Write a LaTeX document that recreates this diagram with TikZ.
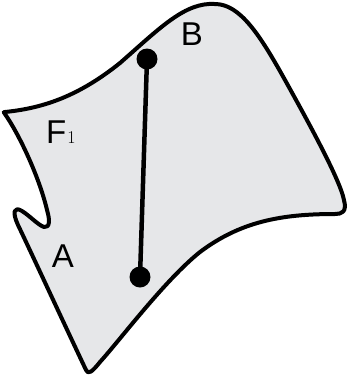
\documentclass[tikz,border=0pt]{standalone}
\usepackage{fontspec}
\newfontfamily\labelfont{Liberation Sans}
\definecolor{facegray}{RGB}{230,231,233}
\begin{document}
\begin{tikzpicture}[x=1pt, y=-1pt,
    face/.style={line width=4pt, line join=round, fill=facegray},
    pt/.style={circle, fill=black, inner sep=0pt, minimum size=21pt},
    lbl/.style={font=\labelfont\fontsize{33pt}{36pt}\selectfont, inner sep=0pt}]
    \useasboundingbox (0,0) rectangle (347,376);

    % Mặt F1
    \draw[face]
        (5,112) .. controls (45,108) and (80,95) .. (120,63)
        .. controls (160,28) and (185,2) .. (215,4)
        .. controls (240,4) and (260,35) .. (285,80)
        .. controls (310,125) and (340,180) .. (344,200)
        .. controls (347,212) and (342,214) .. (335,214)
        .. controls (280,214) and (240,222) .. (200,252)
        .. controls (165,280) and (120,340) .. (100,362)
        .. controls (92,372) and (88,375) .. (86,370)
        .. controls (60,315) and (30,250) .. (18,225)
        .. controls (12,212) and (14,206) .. (22,211)
        .. controls (30,216) and (38,225) .. (44,227)
        .. controls (50,228) and (50,220) .. (47,210)
        .. controls (40,180) and (22,140) .. (7,117)
        .. controls (3,111) and (3,112) .. cycle;

    % Hai điểm và đoạn nối
    \node[pt] (b) at (147,59) {};
    \node[pt] (a) at (140,277) {};
    \draw[line width=4.5pt] (a.center) -- (b.center);

    % Nhãn
    \node[lbl] (lb) at (192,34) {B};
    \node[lbl] (la) at (63,256) {A};
    \node[lbl, anchor=base west] (lf) at (46,143) {F\kern1pt{\rmfamily\fontsize{18pt}{18pt}\selectfont 1}};
\end{tikzpicture}
\end{document}
